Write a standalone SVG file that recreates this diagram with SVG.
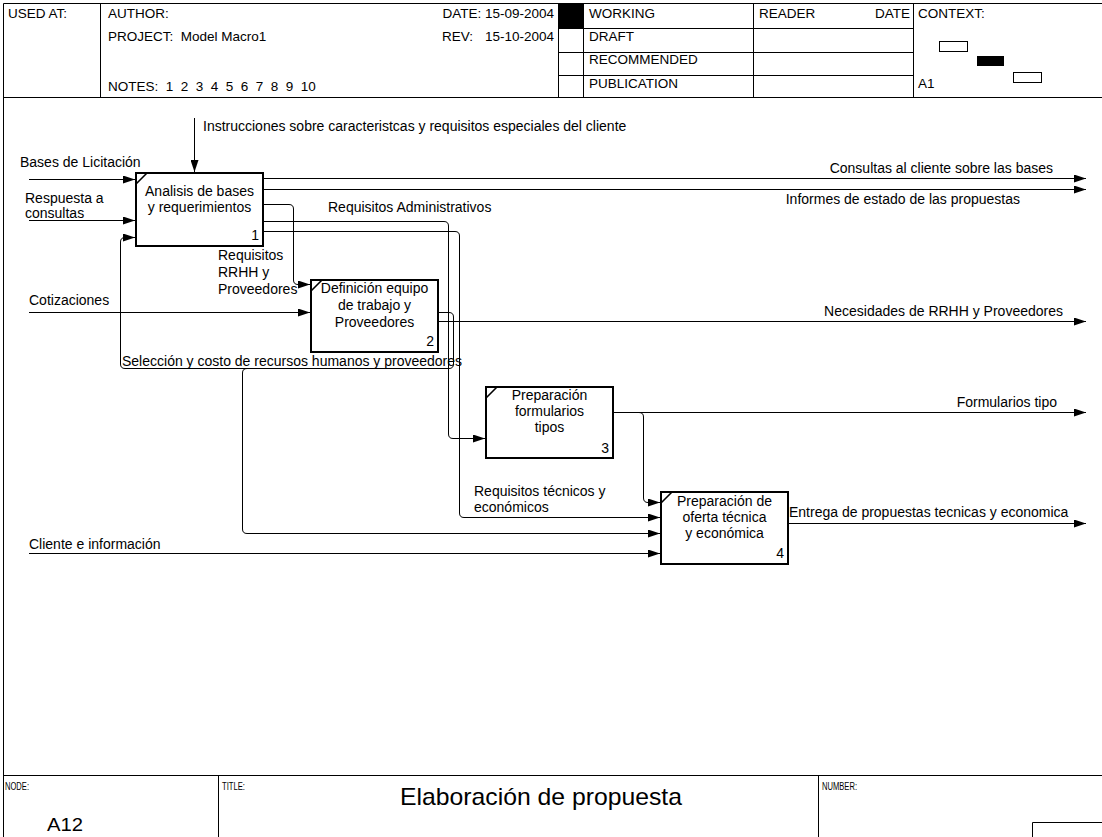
<svg xmlns="http://www.w3.org/2000/svg" width="1102" height="837" viewBox="0 0 1102 837">
  <style>
    .t { font-family: "Liberation Sans", Arial, sans-serif; font-size: 14px; fill: #000; }
    .h { font-family: "Liberation Sans", Arial, sans-serif; font-size: 13.5px; fill: #000; }
    .s { font-family: "Liberation Sans", Arial, sans-serif; font-size: 11px; fill: #000; }
    .mid { text-anchor: middle; }
    .end { text-anchor: end; }
    .ln { fill: none; stroke: #000; stroke-width: 1; }
    .tick { fill: none; stroke: #000; stroke-width: 1.6; }
    .box { fill: #fff; stroke: #000; stroke-width: 2; }
    .c { fill: none; stroke: #000; stroke-width: 1; marker-end: url(#ah); }
  </style>
  <defs>
    <marker id="ah" viewBox="0 0 12 8" refX="12" refY="4" markerWidth="12" markerHeight="8" orient="auto" markerUnits="userSpaceOnUse">
      <path d="M0,0 L12,4 L0,8 z" fill="#000"/>
    </marker>
  </defs>

  <rect width="1102" height="837" fill="#fff"/>

  <!-- sheet frame and header grid -->
  <g id="frame">
    <path class="ln" d="M3.5,3.5 H1102 M3.5,3.5 V837 M3.5,97.5 H1102 M3.5,775.5 H1102"/>
    <path class="ln" d="M100.5,3.5 V97.5 M558.5,3.5 V97.5 M583.5,3.5 V97.5 M753.5,3.5 V97.5 M913.5,3.5 V97.5"/>
    <path class="ln" d="M558.5,28.5 H913.5 M558.5,52.5 H913.5 M558.5,75.5 H913.5"/>
    <rect x="559" y="4" width="24" height="24" fill="#000"/>
    <text class="h" x="8" y="18">USED AT:</text>
    <text class="h" x="108" y="18">AUTHOR:</text>
    <text class="h" x="108" y="41" xml:space="preserve">PROJECT:  Model Macro1</text>
    <text class="h" x="108" y="91" xml:space="preserve">NOTES:  1  2  3  4  5  6  7  8  9  10</text>
    <text class="h end" x="554" y="18">DATE: 15-09-2004</text>
    <text class="h" x="442" y="41">REV:</text>
    <text class="h end" x="554" y="41">15-10-2004</text>
    <text class="h" x="589" y="18">WORKING</text>
    <text class="h" x="589" y="41">DRAFT</text>
    <text class="h" x="589" y="64">RECOMMENDED</text>
    <text class="h" x="589" y="88">PUBLICATION</text>
    <text class="h" x="759" y="18">READER</text>
    <text class="h end" x="910" y="18">DATE</text>
    <text class="h" x="918" y="18">CONTEXT:</text>
    <text class="h" x="918" y="88">A1</text>
    <rect x="939.5" y="41.5" width="28" height="10" fill="#fff" stroke="#000"/>
    <rect x="977" y="56" width="27" height="10" fill="#000"/>
    <rect x="1013.5" y="72.5" width="28" height="10" fill="#fff" stroke="#000"/>
  </g>

  <!-- footer -->
  <g id="footer">
    <path class="ln" d="M218.5,775.5 V837 M818.5,775.5 V837 M1032.5,822.5 H1102 M1032.5,822.5 V837"/>
    <text class="s" x="5" y="790" textLength="24" lengthAdjust="spacingAndGlyphs">NODE:</text>
    <text class="s" x="222" y="790" textLength="23" lengthAdjust="spacingAndGlyphs">TITLE:</text>
    <text class="s" x="822" y="790" textLength="35" lengthAdjust="spacingAndGlyphs">NUMBER:</text>
    <text x="400" y="805" font-family="Liberation Sans, Arial, sans-serif" font-size="24" textLength="282" lengthAdjust="spacingAndGlyphs">Elaboración de propuesta</text>
    <text x="47" y="831" font-family="Liberation Sans, Arial, sans-serif" font-size="18" textLength="36" lengthAdjust="spacingAndGlyphs">A12</text>
  </g>

  <!-- connectors -->
  <g id="connectors">
    <path class="c" d="M194.5,118 V172"/>
    <path class="c" d="M29,179.5 H135"/>
    <path class="c" d="M29,220.5 H135"/>
    <path class="c" d="M29,312.5 H310"/>
    <path class="c" d="M29,553.5 H660"/>
    <path class="c" d="M263,178.5 H1086"/>
    <path class="c" d="M263,189.5 H1086"/>
    <path class="c" d="M263,204.5 H289 Q293.5,204.5 293.5,209 V280 Q293.5,284.5 298,284.5 H310"/>
    <path class="c" d="M263,221.5 H444 Q448.5,221.5 448.5,226 V434 Q448.5,438.5 453,438.5 H485"/>
    <path class="c" d="M263,231.5 H455 Q459.5,231.5 459.5,236 V513 Q459.5,517.5 464,517.5 H660"/>
    <path class="c" d="M438,321.5 H1086"/>
    <path class="c" d="M438,312.5 H449 Q453.5,312.5 453.5,317 V364 Q453.5,368.5 449,368.5 H125 Q120.5,368.5 120.5,364 V242 Q120.5,237.5 125,237.5 H135"/>
    <path class="c" d="M252,368.5 H247 Q242.5,368.5 242.5,373 V529 Q242.5,533.5 247,533.5 H660"/>
    <path class="c" d="M613,412.5 H1086"/>
    <path class="c" d="M613,412.5 H639 Q643.5,412.5 643.5,417 V498 Q643.5,502.5 648,502.5 H660"/>
    <path class="c" d="M788,523.5 H1086"/>

    <text class="t" x="203" y="131">Instrucciones sobre caracteristcas y requisitos especiales del cliente</text>
    <text class="t" x="20" y="167">Bases de Licitación</text>
    <text class="t" x="25" y="203">Respuesta a</text>
    <text class="t" x="25" y="218">consultas</text>
    <text class="t" x="29" y="305">Cotizaciones</text>
    <text class="t" x="29" y="549">Cliente e información</text>
    <text class="t" x="218" y="260">Requisitos</text>
    <text class="t" x="218" y="277">RRHH y</text>
    <text class="t" x="218" y="294">Proveedores</text>
    <text class="t" x="328" y="212">Requisitos Administrativos</text>
    <text class="t" x="122" y="366">Selección y costo de recursos humanos y proveedores</text>
    <text class="t" x="474" y="496">Requisitos técnicos y</text>
    <text class="t" x="474" y="512">económicos</text>
    <text class="t end" x="1053" y="173">Consultas al cliente sobre las bases</text>
    <text class="t end" x="1020" y="204">Informes de estado de las propuestas</text>
    <text class="t end" x="1063" y="316">Necesidades de RRHH y Proveedores</text>
    <text class="t end" x="1057" y="407">Formularios tipo</text>
    <text class="t" x="789" y="517">Entrega de propuestas tecnicas y economica</text>
  </g>

  <!-- activity boxes -->
  <g id="node1">
    <rect class="box" x="136" y="173" width="127" height="73"/>
    <path class="tick" d="M136,184 L147,173"/>
    <text class="t mid" x="199.5" y="196">Analisis de bases</text>
    <text class="t mid" x="199.5" y="212">y requerimientos</text>
    <text class="t end" x="259" y="240">1</text>
  </g>
  <g id="node2">
    <rect class="box" x="311" y="280" width="127" height="72"/>
    <path class="tick" d="M311,291 L322,280"/>
    <text class="t mid" x="374.5" y="293">Definición equipo</text>
    <text class="t mid" x="374.5" y="310">de trabajo y</text>
    <text class="t mid" x="374.5" y="327">Proveedores</text>
    <text class="t end" x="434" y="346">2</text>
  </g>
  <g id="node3">
    <rect class="box" x="486" y="387" width="127" height="71"/>
    <path class="tick" d="M486,398 L497,387"/>
    <text class="t mid" x="549.5" y="400">Preparación</text>
    <text class="t mid" x="549.5" y="416">formularios</text>
    <text class="t mid" x="549.5" y="432">tipos</text>
    <text class="t end" x="609" y="453">3</text>
  </g>
  <g id="node4">
    <rect class="box" x="661" y="492" width="127" height="72"/>
    <path class="tick" d="M661,503 L672,492"/>
    <text class="t mid" x="724.5" y="506">Preparación de</text>
    <text class="t mid" x="724.5" y="522">oferta técnica</text>
    <text class="t mid" x="724.5" y="538">y económica</text>
    <text class="t end" x="784" y="558">4</text>
  </g>
</svg>
